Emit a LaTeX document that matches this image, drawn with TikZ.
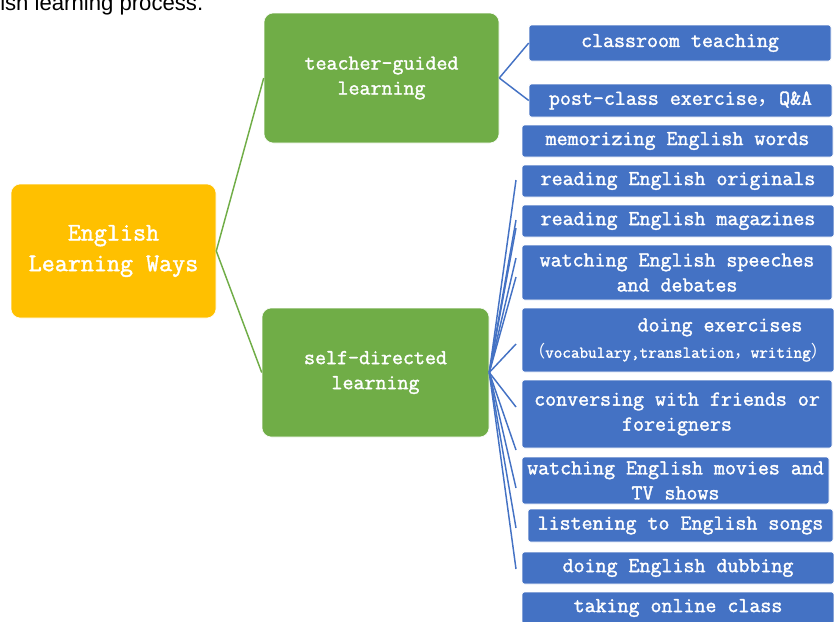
\documentclass[tikz,border=0pt]{standalone}
\usepackage{fontspec}
\newfontfamily\boxfont{Latin Modern Mono}[FakeBold=1.6]
\newfontfamily\cjk{Noto Sans CJK SC}
\newfontfamily\capfont{Liberation Sans}
\definecolor{rootorange}{HTML}{FFC000}
\definecolor{branchgreen}{HTML}{70AD47}
\definecolor{leafblue}{HTML}{4472C4}

\begin{document}
\begin{tikzpicture}[x=0.75pt, y=-0.75pt,
    rootbox/.style={fill=rootorange, draw=white, rounded corners=7pt, text=white, align=center, inner sep=0pt,
        font=\boxfont\fontsize{19}{23}\selectfont},
    branchbox/.style={fill=branchgreen, draw=white, rounded corners=7pt, text=white, align=center, inner sep=0pt,
        font=\boxfont\fontsize{16}{18.75}\selectfont},
    leafbox/.style={fill=leafblue, draw=white, rounded corners=2pt, text=white, align=center, inner sep=0pt,
        font=\boxfont\fontsize{16}{18.75}\selectfont},
    greenline/.style={branchgreen, line width=1.1pt},
    blueline/.style={leafblue, line width=1.1pt}]
    \useasboundingbox (0,0) rectangle (834,621);

    % Caption fragment
    \node[anchor=base west, inner sep=0pt, font=\capfont\fontsize{16.6}{20}\selectfont] (cap) at (0,10) {ish learning process.};

    % Root
    \node[rootbox, minimum width=153.75pt, minimum height=100.5pt] (root) at (113.5,251) {English\\Learning Ways};

    % Branches
    \node[branchbox, minimum width=176.25pt, minimum height=97.5pt] (tg) at (381.5,78) {teacher-guided\\learning};
    \node[branchbox, minimum width=170.25pt, minimum height=96.75pt] (sd) at (375.5,372.5) {self-directed\\learning};

    % Leaves
    \node[leafbox, minimum width=226.5pt, minimum height=27pt] (c1) at (680,43) {classroom teaching};
    \node[leafbox, minimum width=227.25pt, minimum height=24.75pt] (c2) at (680.5,100.5) {post-class exercise{\cjk ，}Q\&A};
    \node[leafbox, minimum width=233.25pt, minimum height=24pt] (s0) at (677.5,141) {memorizing English words};
    \node[leafbox, minimum width=234pt, minimum height=24pt] (s1) at (678,181) {reading English originals};
    \node[leafbox, minimum width=234pt, minimum height=24pt] (s2) at (678,221) {reading English magazines};
    \node[leafbox, minimum width=232.5pt, minimum height=41.25pt] (s3) at (677,272.5) {watching English speeches\\and debates};
    \node[leafbox, minimum width=234pt, minimum height=48pt] (s4) at (678,340)
        {\hspace*{63pt}doing exercises\\[1pt]{\fontsize{12.5}{15}\selectfont{\cjk （}vocabulary,translation{\cjk ，}writing{\cjk ）}}};
    \node[leafbox, minimum width=232.5pt, minimum height=51pt] (s5) at (677,414) {conversing with friends or\\foreigners};
    \node[leafbox, minimum width=230.25pt, minimum height=35.25pt] (s6) at (675.5,480.5) {watching English movies and\\TV shows};
    \node[leafbox, minimum width=228.75pt, minimum height=24.75pt] (s7) at (680.5,525.5) {listening to English songs};
    \node[leafbox, minimum width=234pt, minimum height=24pt] (s8) at (678,568) {doing English dubbing};
    \node[leafbox, minimum width=234pt, minimum height=24pt] (s9) at (678,608) {taking online class};

    % Connectors
    \draw[greenline] (root.east) -- (tg.west);
    \draw[greenline] (root.east) -- (sd.west);
    \draw[blueline] (tg.east) -- (c1.west);
    \draw[blueline] (tg.east) -- (c2.west);
    \foreach \y [count=\i] in {180,220,228,258,277,344,407,450,488,528,569} {
        \coordinate (f\i) at (516,\y);
        \draw[blueline] (sd.east) -- (f\i);
    }
\end{tikzpicture}
\end{document}
